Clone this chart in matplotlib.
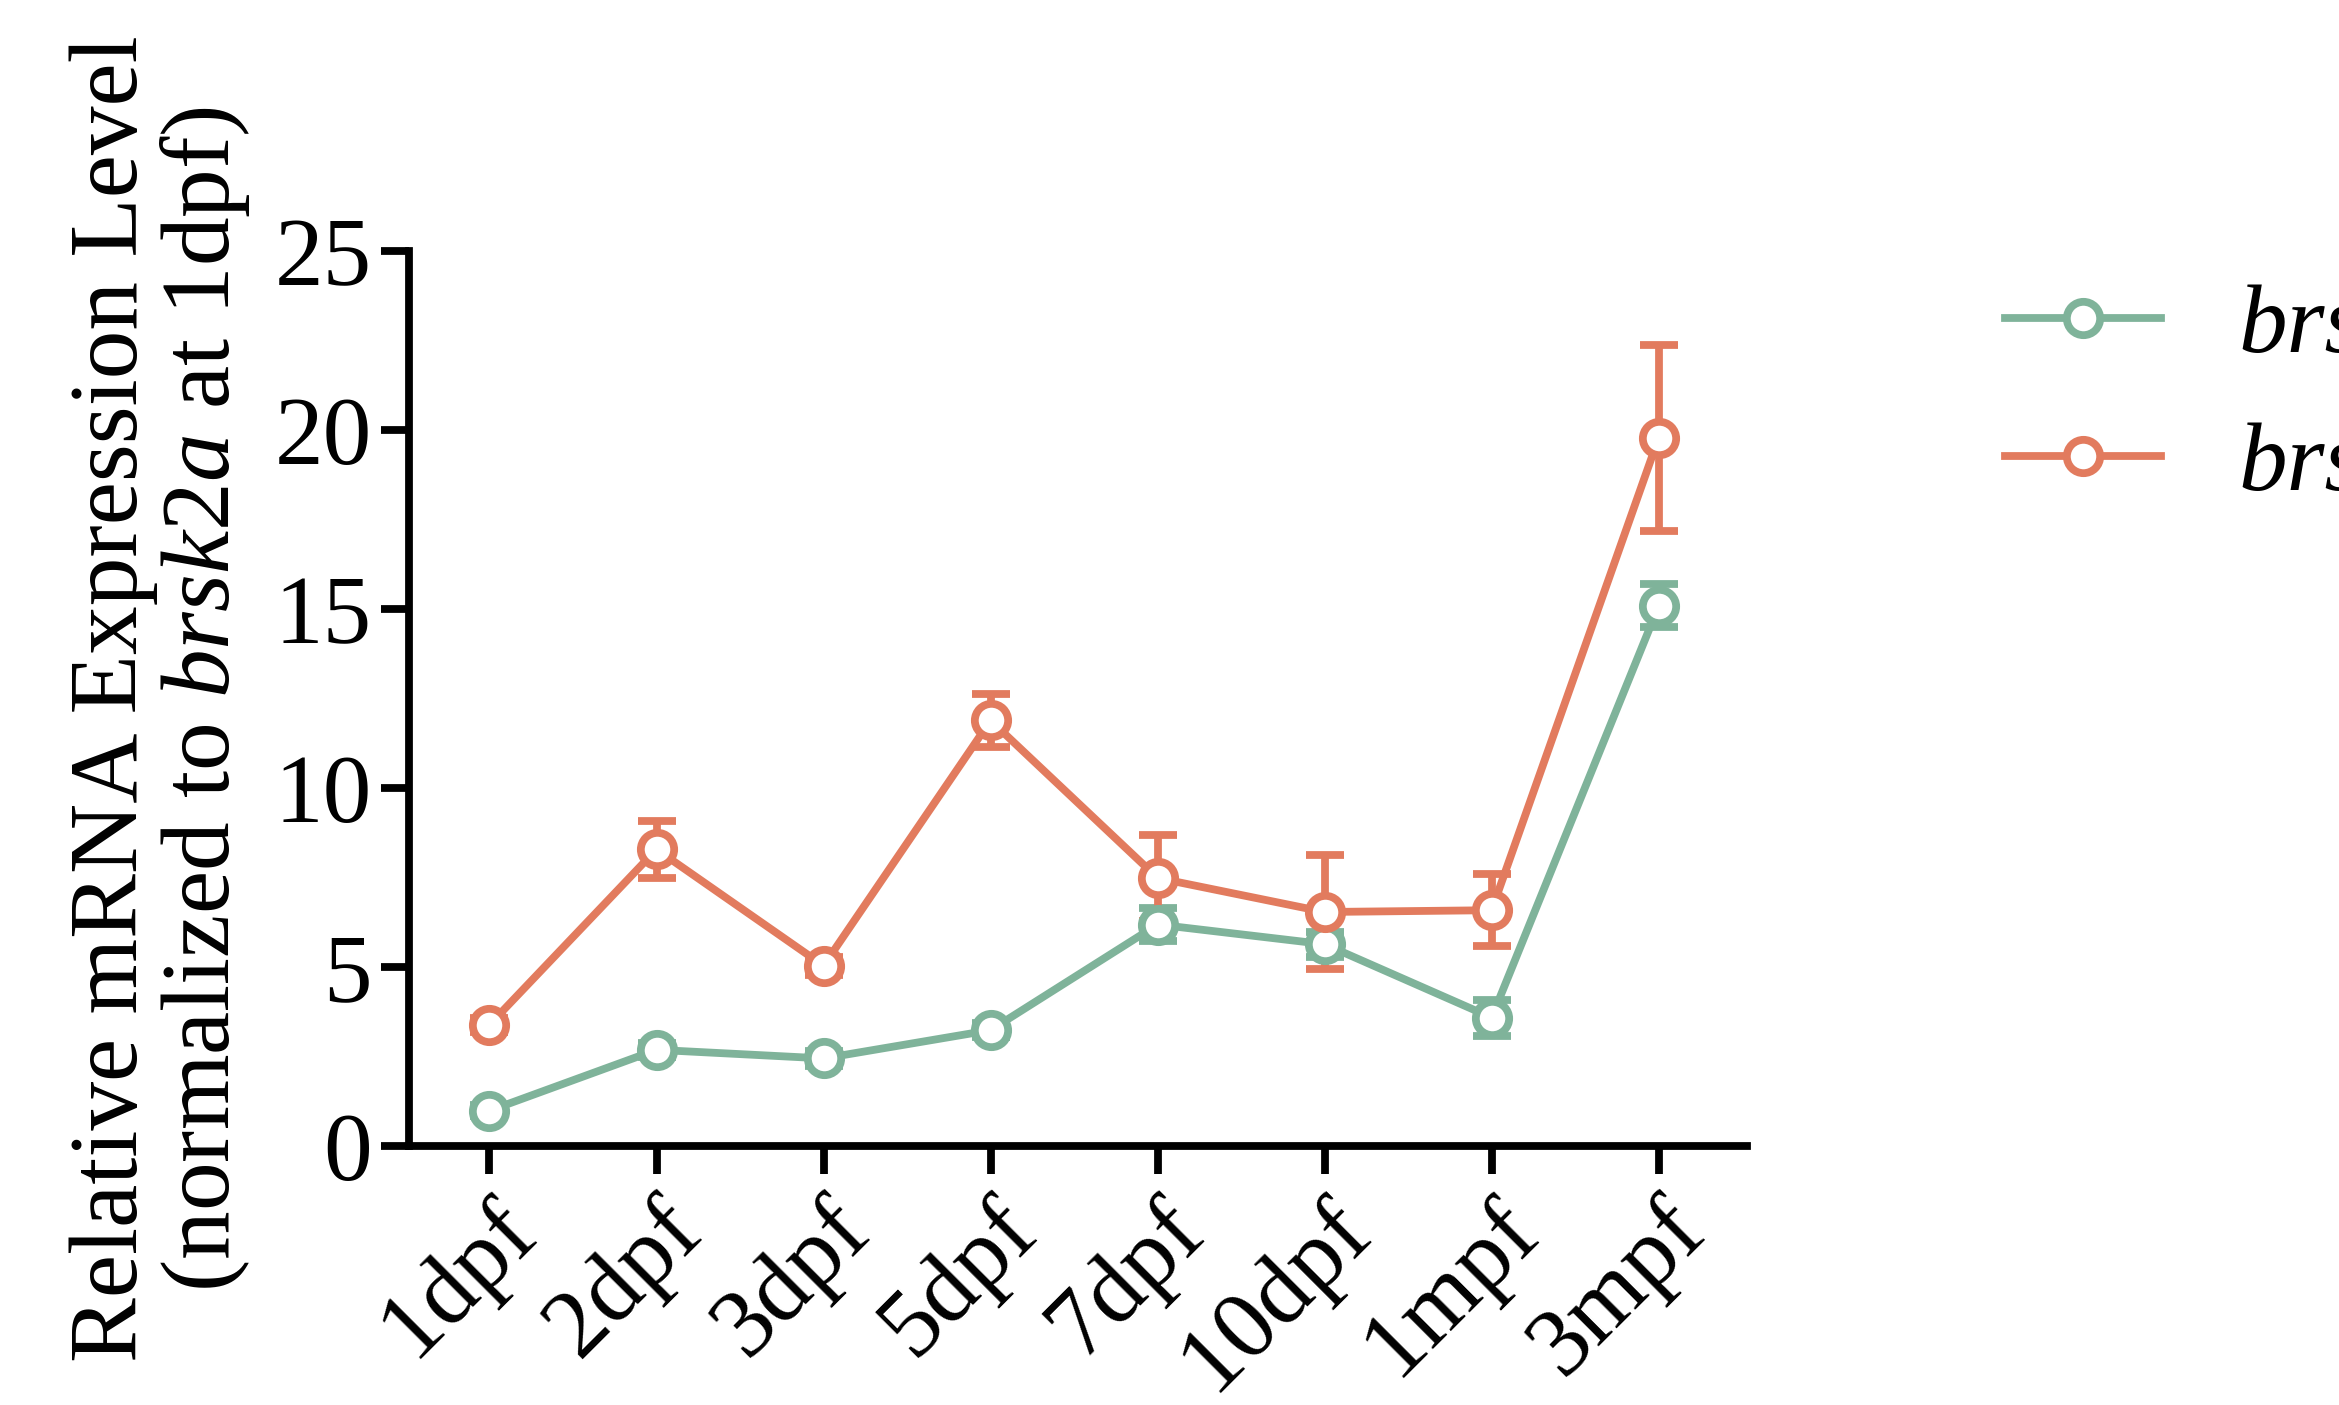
import numpy as np
import matplotlib.pyplot as plt
from matplotlib.lines import Line2D

plt.rcParams['font.family'] = ['Liberation Serif', 'DejaVu Serif']
plt.rcParams['mathtext.fontset'] = 'custom'
plt.rcParams['mathtext.it'] = 'Liberation Serif:italic'
plt.rcParams['mathtext.rm'] = 'Liberation Serif'

stages = ['1dpf', '2dpf', '3dpf', '5dpf', '7dpf', '10dpf', '1mpf', '3mpf']
brsk2a = [1.0, 2.7, 2.46, 3.25, 6.2, 5.65, 3.6, 15.1]
brsk2a_err = [0.15, 0.2, 0.2, 0.2, 0.45, 0.35, 0.5, 0.6]
brsk2b = [3.4, 8.3, 5.05, 11.9, 7.5, 6.55, 6.6, 19.8]
brsk2b_err = [0.2, 0.8, 0.25, 0.75, 1.2, 1.6, 1.0, 2.6]

green = '#7fb39a'
orange = '#e27b5e'

fig = plt.figure(figsize=(11.695, 7.025), dpi=200)
ax = fig.add_axes([0.175, 0.184, 0.572, 0.637])
x = np.arange(len(stages))

handles = []
for vals, err, c, name in [(brsk2a, brsk2a_err, green, 'brsk2a'),
                           (brsk2b, brsk2b_err, orange, 'brsk2b')]:
    ax.errorbar(x, vals, yerr=err, color=c, lw=2.8, marker='o', ms=12,
                mfc='white', mew=2.8, capsize=7, capthick=2.8, elinewidth=2.8)
    handles.append(Line2D([], [], color=c, lw=2.8, marker='o', ms=12,
                          mfc='white', mew=2.8, label=name))

ax.set_xlim(-0.48, 7.53)
ax.set_ylim(0, 25)
ax.set_yticks([0, 5, 10, 15, 20, 25])
ax.set_xticks(x)
ax.set_xticklabels(stages, rotation=45, ha='right', rotation_mode='anchor')
ax.tick_params(labelsize=35, width=2.8, length=10)
for s in ['top', 'right']:
    ax.spines[s].set_visible(False)
for s in ['left', 'bottom']:
    ax.spines[s].set_linewidth(2.8)
ax.set_ylabel('Relative mRNA Expression Level\n(normalized to $\\mathit{brsk2a}$ at 1dpf)',
              fontsize=35, linespacing=1.0, labelpad=8)
fig.legend(handles=handles, loc='upper left', bbox_to_anchor=(0.82, 0.86),
           frameon=False, prop={'size': 35, 'style': 'italic'},
           handlelength=1.6, labelspacing=0.5)
fig.savefig('out.png', dpi=200)
